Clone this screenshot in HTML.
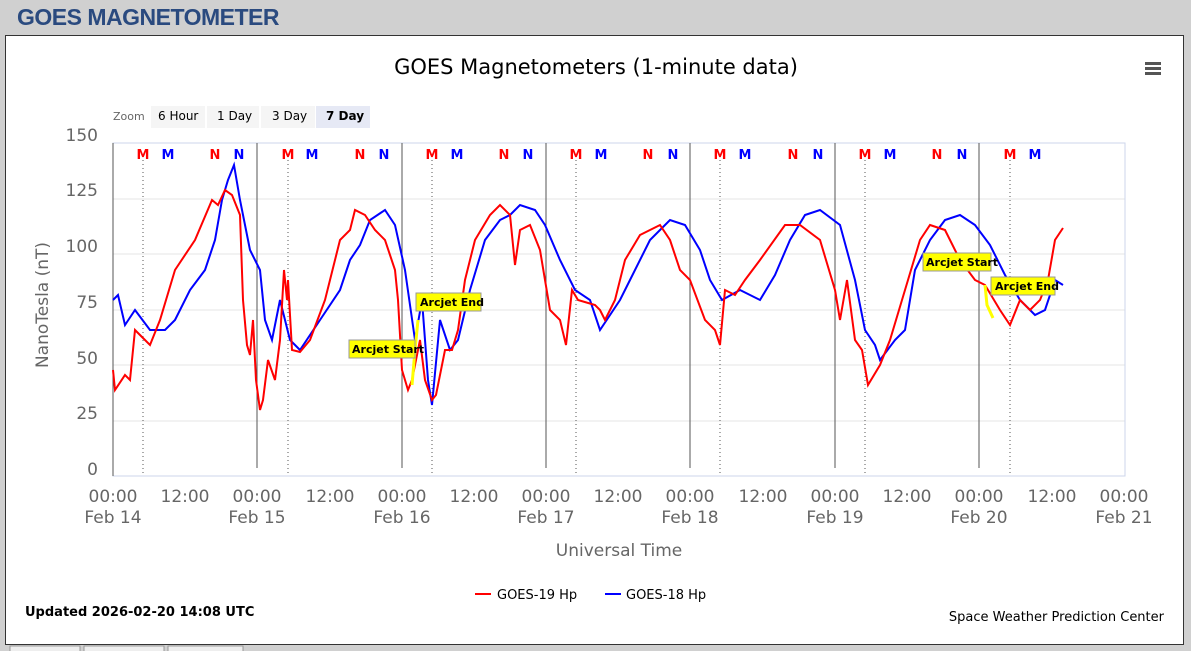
<!DOCTYPE html>
<html><head><meta charset="utf-8"><style>
body{margin:0;width:1191px;height:651px;background:#d0d0d0;font-family:"Liberation Sans",sans-serif;overflow:hidden;position:relative}
.h{position:absolute;left:17px;top:4px;font-size:23px;font-weight:bold;color:#2a4a7f;letter-spacing:-0.5px}
.f{position:absolute;left:5px;top:35px;width:1177px;height:608px;background:#fff;border:1px solid #333}
</style></head><body>
<div class="h">GOES MAGNETOMETER</div>
<div class="f"></div>
<svg width="1191" height="651" style="position:absolute;left:0;top:0" font-family="DejaVu Sans, sans-serif">
<text x="596" y="74" font-size="21" text-anchor="middle" fill="#000">GOES Magnetometers (1-minute data)</text>
<g fill="#555"><rect x="1145" y="62" width="16" height="3"/><rect x="1145" y="67" width="16" height="3"/><rect x="1145" y="72" width="16" height="3"/></g>
<text x="113" y="120" font-size="11" fill="#666">Zoom</text>
<rect x="151" y="106" width="54" height="22" fill="#f5f5f5"/><text x="158" y="120" font-size="12">6 Hour</text>
<rect x="207" y="106" width="52" height="22" fill="#f5f5f5"/><text x="217" y="120" font-size="12">1 Day</text>
<rect x="261" y="106" width="54" height="22" fill="#f5f5f5"/><text x="272" y="120" font-size="12">3 Day</text>
<rect x="316" y="106" width="54" height="22" fill="#e6e9f5"/><text x="326" y="120" font-size="12" font-weight="bold">7 Day</text>
<g stroke="#e6e6e6"><line x1="113" x2="1125" y1="199" y2="199"/><line x1="113" x2="1125" y1="254" y2="254"/><line x1="113" x2="1125" y1="310" y2="310"/><line x1="113" x2="1125" y1="365" y2="365"/><line x1="113" x2="1125" y1="421" y2="421"/></g>
<rect x="113" y="143" width="1012" height="333" fill="none" stroke="#ccd6eb"/>
<line x1="113" x2="1125" y1="476" y2="476" stroke="#ccd6eb"/>
<g font-size="17" fill="#666" text-anchor="end"><text x="98" y="141">150</text><text x="98" y="196">125</text><text x="98" y="252">100</text><text x="98" y="308">75</text><text x="98" y="364">50</text><text x="98" y="419">25</text><text x="98" y="475">0</text></g>
<text transform="translate(48,305) rotate(-90)" font-size="17" fill="#666" text-anchor="middle">NanoTesla (nT)</text>
<g stroke="#555"><line x1="113" y1="143" x2="113" y2="476"/><line x1="257" y1="143" x2="257" y2="468"/><line x1="402" y1="143" x2="402" y2="468"/><line x1="546" y1="143" x2="546" y2="468"/><line x1="690" y1="143" x2="690" y2="468"/><line x1="835" y1="143" x2="835" y2="468"/><line x1="979" y1="143" x2="979" y2="468"/></g>
<g stroke="#555" stroke-dasharray="1,3"><line x1="143" y1="160" x2="143" y2="476"/><line x1="288" y1="160" x2="288" y2="476"/><line x1="432" y1="160" x2="432" y2="476"/><line x1="576" y1="160" x2="576" y2="476"/><line x1="720" y1="160" x2="720" y2="476"/><line x1="865" y1="160" x2="865" y2="476"/><line x1="1010" y1="160" x2="1010" y2="476"/></g>
<g font-size="13" font-weight="bold" text-anchor="middle">
<g fill="#f00"><text x="143" y="159">M</text><text x="288" y="159">M</text><text x="432" y="159">M</text><text x="576" y="159">M</text><text x="720" y="159">M</text><text x="865" y="159">M</text><text x="1010" y="159">M</text>
<text x="215" y="159">N</text><text x="360" y="159">N</text><text x="504" y="159">N</text><text x="648" y="159">N</text><text x="793" y="159">N</text><text x="937" y="159">N</text></g>
<g fill="#00f"><text x="168" y="159">M</text><text x="312" y="159">M</text><text x="457" y="159">M</text><text x="601" y="159">M</text><text x="745" y="159">M</text><text x="890" y="159">M</text><text x="1035" y="159">M</text>
<text x="239" y="159">N</text><text x="384" y="159">N</text><text x="528" y="159">N</text><text x="673" y="159">N</text><text x="818" y="159">N</text><text x="962" y="159">N</text></g></g>
<polyline fill="none" stroke="#00f" stroke-width="2" points="113,300 118,295 125,325 135,310 150,330 165,330 175,320 190,290 205,270 215,240 222,200 228,180 234,165 240,200 250,250 260,270 265,320 272,340 280,300 290,340 300,350 320,320 340,290 350,260 360,245 370,220 385,210 395,225 405,270 415,340 422,300 428,380 432,405 440,320 450,350 458,340 470,290 485,240 500,220 510,215 520,205 535,210 545,225 560,260 575,290 590,300 600,330 620,300 630,280 650,240 670,220 685,225 700,250 710,280 722,300 740,290 760,300 775,275 790,240 805,215 820,210 840,225 855,280 865,330 875,345 880,360 895,340 905,330 915,270 930,240 945,220 960,215 975,225 990,245 1005,275 1020,300 1035,315 1045,310 1055,280 1063,285"/>
<polyline fill="none" stroke="#f00" stroke-width="2" points="113,370 115,390 125,375 130,380 135,330 145,340 150,345 160,320 175,270 195,240 212,200 218,205 225,190 232,195 240,215 243,300 247,345 250,355 253,320 256,380 260,410 263,400 268,360 275,380 280,340 284,270 287,300 288,280 292,350 300,352 310,340 325,300 340,240 350,230 355,210 365,215 375,230 385,240 395,270 398,300 402,370 408,390 412,380 420,340 425,380 432,400 436,395 445,350 452,350 458,330 465,280 475,240 490,215 500,205 510,215 515,265 520,230 530,225 540,250 550,310 560,320 566,345 572,290 578,300 595,305 600,310 605,320 615,300 625,260 640,235 660,225 670,240 680,270 690,280 705,320 715,330 720,345 725,290 735,295 745,280 760,260 785,225 800,225 820,240 835,290 840,320 847,280 855,340 862,350 868,385 880,365 890,340 905,290 920,240 930,225 945,230 960,260 975,280 985,285 1000,310 1010,325 1020,300 1030,310 1040,300 1048,280 1055,240 1063,228"/>
<polyline fill="none" stroke="#ff0" stroke-width="3" points="412,385 415,350 418,320"/>
<polyline fill="none" stroke="#ff0" stroke-width="3" points="985,285 987,305 993,318"/>
<g font-size="11" font-weight="bold">
<rect x="349" y="340" width="66" height="18" fill="#ff0" stroke="#999"/><text x="352" y="353">Arcjet Start</text>
<rect x="416" y="293" width="65" height="18" fill="#ff0" stroke="#999"/><text x="420" y="306">Arcjet End</text>
<rect x="923" y="253" width="68" height="18" fill="#ff0" stroke="#999"/><text x="926" y="266">Arcjet Start</text>
<rect x="991" y="277" width="64" height="18" fill="#ff0" stroke="#999"/><text x="995" y="290">Arcjet End</text></g>
<g font-size="17" fill="#666" text-anchor="middle">
<text x="113" y="502">00:00</text><text x="113" y="523">Feb 14</text><text x="185" y="502">12:00</text>
<text x="257" y="502">00:00</text><text x="257" y="523">Feb 15</text><text x="330" y="502">12:00</text>
<text x="402" y="502">00:00</text><text x="402" y="523">Feb 16</text><text x="474" y="502">12:00</text>
<text x="546" y="502">00:00</text><text x="546" y="523">Feb 17</text><text x="618" y="502">12:00</text>
<text x="690" y="502">00:00</text><text x="690" y="523">Feb 18</text><text x="763" y="502">12:00</text>
<text x="835" y="502">00:00</text><text x="835" y="523">Feb 19</text><text x="907" y="502">12:00</text>
<text x="979" y="502">00:00</text><text x="979" y="523">Feb 20</text><text x="1052" y="502">12:00</text>
<text x="1124" y="502">00:00</text><text x="1124" y="523">Feb 21</text>
<text x="619" y="556">Universal Time</text></g>
<line x1="475" x2="491" y1="594" y2="594" stroke="#f00" stroke-width="2"/><text x="497" y="599" font-size="13">GOES-19 Hp</text>
<line x1="605" x2="621" y1="594" y2="594" stroke="#00f" stroke-width="2"/><text x="626" y="599" font-size="13">GOES-18 Hp</text>
<text x="25" y="616" font-size="13" font-weight="bold">Updated 2026-02-20 14:08 UTC</text>
<text x="1164" y="621" font-size="13" text-anchor="end">Space Weather Prediction Center</text>
<g fill="#eee" stroke="#999"><rect x="10" y="646" width="70" height="10"/><rect x="84" y="646" width="80" height="10"/><rect x="168" y="646" width="75" height="10"/></g>
</svg>
</body></html>
